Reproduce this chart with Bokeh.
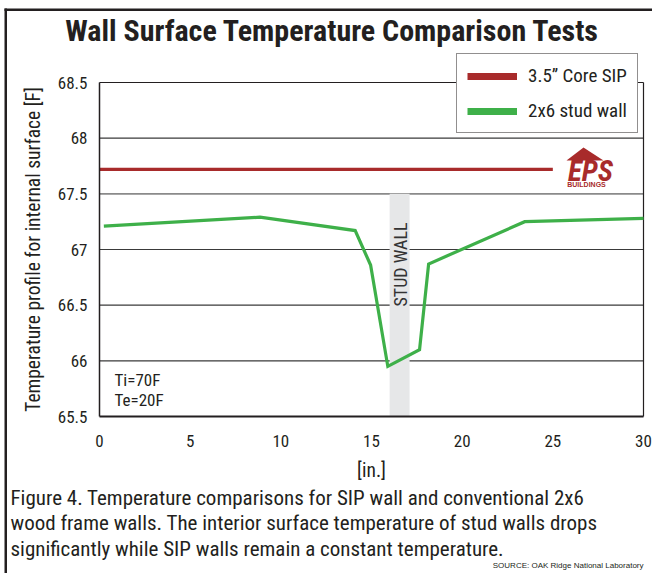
from bokeh.plotting import figure
from bokeh.models import (Range1d, FixedTicker, Legend, LegendItem, Label,
                          BoxAnnotation, PolyAnnotation)
from bokeh.embed import file_html
from bokeh.resources import INLINE
import math

# ---------------- data ----------------
sip_x = [0, 25]
sip_y = [67.72, 67.72]

stud_x = [0.24, 8.85, 14.1, 14.95, 15.9, 17.65, 18.15, 23.45, 30]
stud_y = [67.21, 67.29, 67.17, 66.86, 65.95, 66.10, 66.87, 67.25, 67.28]

stud_band = (16.0, 17.1)

y_ticks = [65.5, 66, 66.5, 67, 67.5, 68, 68.5]
y_tick_labels = ["65.5", "66", "66.5", "67", "67.5", "68", "68.5"]
x_ticks = [0, 5, 10, 15, 20, 25, 30]

series_names = ["3.5\u201d Core SIP", "2x6 stud wall"]

title_text = "Wall Surface Temperature Comparison Tests"
caption_lines = [
    "Figure 4. Temperature comparisons for SIP wall and conventional 2x6",
    "wood frame walls. The interior surface temperature of stud walls drops",
    "significantly while SIP walls remain a constant temperature.",
]
source_text = "SOURCE: OAK Ridge National Laboratory"
notes = ["Ti=70F", "Te=20F"]

# ---------------- styling ----------------
FONT = "Roboto Condensed"
RED = "#a82b2b"
GREEN = "#3eb049"
TXT = "#231f20"

W, H = 652, 573
# plot box in canvas pixel coordinates
FX0, FX1, FY0, FY1 = 99, 643, 82, 416
XMIN, XMAX, YMIN, YMAX = x_ticks[0], x_ticks[-1], y_ticks[0], y_ticks[-1]


def dx(px):
    return XMIN + (px - FX0) / (FX1 - FX0) * (XMAX - XMIN)


def dy(py):
    return YMAX - (py - FY0) / (FY1 - FY0) * (YMAX - YMIN)


p = figure(width=W, height=H, output_backend="svg", toolbar_location=None,
           x_range=Range1d(dx(0), dx(W)), y_range=Range1d(dy(H), dy(0)),
           min_border=0)
p.outline_line_color = None
p.background_fill_color = "white"
p.border_fill_color = "white"
p.xgrid.visible = False
p.ygrid.visible = False

# grid lines (bounded to the plot box), then plot box top/right edges
dark_grid = [t for t in y_ticks[1:-1] if t != 67.5]
p.segment(x0=XMIN, x1=XMAX, y0=dark_grid, y1=dark_grid, line_color="#3a3a3a", line_width=1.2)
p.segment(x0=XMIN, x1=XMAX, y0=[67.5], y1=[67.5], line_color="#8a8a8a", line_width=1.6)
p.segment(x0=XMIN, x1=XMAX, y0=[YMAX], y1=[YMAX], line_color="#231f20", line_width=1.2)
p.segment(x0=XMAX, x1=XMAX, y0=[YMIN], y1=[YMAX], line_color="#231f20", line_width=1.2)

# axes fixed at the plot box edges
p.yaxis.fixed_location = XMIN
p.xaxis.fixed_location = YMIN
p.yaxis.bounds = (YMIN, YMAX)
p.xaxis.bounds = (XMIN, XMAX)
p.yaxis.ticker = FixedTicker(ticks=y_ticks)
p.yaxis.major_label_overrides = {t: l for t, l in zip(y_ticks, y_tick_labels)}
p.xaxis.ticker = FixedTicker(ticks=x_ticks)
for ax in (p.xaxis[0], p.yaxis[0]):
    ax.major_tick_line_color = None
    ax.minor_tick_line_color = None
    ax.major_label_text_font = FONT
    ax.major_label_text_font_size = "17px"
    ax.major_label_text_color = TXT
    ax.axis_label_text_font = FONT
    ax.axis_label_text_font_style = "normal"
    ax.axis_label_text_font_size = "19.5px"
    ax.axis_label_text_color = TXT
    ax.axis_line_color = "#231f20"
p.xaxis.axis_line_width = 2.2
p.yaxis.axis_line_width = 1.5
p.xaxis.major_label_standoff = 12
p.yaxis.major_label_standoff = 6
p.xaxis.axis_label = "[in.]"
p.xaxis.axis_label_standoff = 9
p.yaxis.axis_label = "Temperature profile for internal surface [F]"
p.yaxis.axis_label_standoff = 10

# stud wall band (covers the grid lines)
p.quad(left=[stud_band[0]], right=[stud_band[1]], bottom=[YMIN], top=[67.5],
       fill_color="#e6e7e8", line_color=None)

r_sip = p.line(sip_x, sip_y, line_color=RED, line_width=3.2)
r_stud = p.line(stud_x, stud_y, line_color=GREEN, line_width=3.2, line_join="miter")

# legend proxies (thicker swatches, nothing drawn in the plot)
nan = float("nan")
proxy_sip = p.line([nan], [nan], line_color=RED, line_width=7)
proxy_stud = p.line([nan], [nan], line_color=GREEN, line_width=7)

legend = Legend(items=[LegendItem(label=series_names[0], renderers=[proxy_sip]),
                       LegendItem(label=series_names[1], renderers=[proxy_stud])],
                location=(456, H - 133),
                glyph_width=50, glyph_height=20, label_height=20, label_width=99,
                label_standoff=11, padding=10, spacing=12, margin=0,
                label_text_font=FONT, label_text_font_size="19px", label_text_color=TXT,
                border_line_color="#231f20", border_line_width=1.2,
                background_fill_color="white", background_fill_alpha=1)
p.add_layout(legend, "center")

# texts
p.add_layout(Label(x=dx(332), y=dy(30), text=title_text, text_align="center",
                   text_baseline="middle", text_font=FONT, text_font_style="bold",
                   text_font_size="30px", text_color=TXT))
for i, line in enumerate(caption_lines):
    p.add_layout(Label(x=dx(10), y=dy(497 + 25.5 * i), text=line, text_align="left",
                       text_baseline="middle", text_font=FONT, text_font_size="21px",
                       text_color=TXT))
p.add_layout(Label(x=dx(643), y=dy(565), text=source_text, text_align="right",
                   text_baseline="middle", text_font="Liberation Sans", text_font_size="8px",
                   text_color=TXT))
for i, n in enumerate(notes):
    p.add_layout(Label(x=dx(114), y=dy(379 + 20 * i), text=n, text_align="left",
                       text_baseline="middle", text_font=FONT, text_font_size="17px",
                       text_color=TXT))
p.add_layout(Label(x=dx(399.5), y=dy(264), text="STUD WALL", angle=math.pi / 2,
                   text_align="center", text_baseline="middle", text_font=FONT,
                   text_font_size="18px", text_color="#333333"))

# EPS logo
p.add_layout(PolyAnnotation(xs=[dx(566), dx(583), dx(603)], ys=[dy(160), dy(147), dy(160)],
                            fill_color=RED, fill_alpha=1, line_color=None))
p.add_layout(Label(x=dx(590), y=dy(170), text="EPS", text_align="center",
                   text_baseline="middle", text_font=FONT,
                   text_font_style="bold italic", text_font_size="29px", text_color=RED))
p.add_layout(Label(x=dx(586), y=dy(184), text="BUILDINGS", text_align="center",
                   text_baseline="middle", text_font="Liberation Sans",
                   text_font_style="bold", text_font_size="7px", text_color=RED))

# page border (left and top)
p.add_layout(BoxAnnotation(left=dx(4), right=dx(6.5), top=dy(8), bottom=dy(H),
                           fill_color="#231f20", fill_alpha=1, line_color=None))
p.add_layout(BoxAnnotation(left=dx(4), right=dx(W), top=dy(8), bottom=dy(10.5),
                           fill_color="#231f20", fill_alpha=1, line_color=None))

open("out.html", "w").write(file_html(p, INLINE))
